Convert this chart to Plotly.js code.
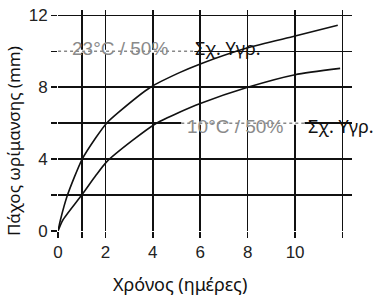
<!DOCTYPE html>
<html>
<head>
<meta charset="utf-8">
<script src="https://cdn.plot.ly/plotly-3.0.1.min.js"></script>
<style>html,body{margin:0;padding:0;background:#fff;}#chart{width:380px;height:297px;}</style>
</head>
<body>
<div id="chart"></div>
<script>
// Curve 23°C / 50% RH
var days23 = [0, 0.1, 0.4, 1, 1.6, 2.05, 2.55, 3.9, 5.1, 6, 8, 10, 11.8];
var thick23 = [0, 0.6, 2.0, 3.95, 5.2, 6.0, 6.6, 8.0, 8.8, 9.3, 10.2, 10.85, 11.45];
// Curve 10°C / 50% RH
var days10 = [0, 0.2, 1, 1.6, 2.05, 3.1, 4.15, 5.1, 6, 8, 10, 11.9];
var thick10 = [0, 0.6, 2.0, 3.1, 3.85, 5.0, 6.0, 6.6, 7.1, 8.0, 8.7, 9.05];

var xTickVals = [0, 1, 2, 4, 6, 8, 10, 12];
var xTickText = ["0", "", "2", "4", "6", "8", "10", ""];
var yTickVals = [0, 2, 4, 6, 8, 10, 12];
var yTickText = ["0", "", "4", "", "8", "", "12"];

var label23 = "23°C / 50%";
var label10 = "10°C / 50%";
var labelRH = "Σχ. Υγρ.";
var xTitle = "Χρόνος (ημέρες)";
var yTitle = "Πάχος ωρίμανσης (mm)";

var traces = [
  {x: days23, y: thick23, mode: "lines", line: {color: "#111", width: 1.6, shape: "spline", smoothing: 0.6}, hoverinfo: "skip", showlegend: false},
  {x: days10, y: thick10, mode: "lines", line: {color: "#111", width: 1.6, shape: "spline", smoothing: 0.6}, hoverinfo: "skip", showlegend: false}
];

var tickFont = {family: "Liberation Sans, Arial, sans-serif", size: 17, color: "#222"};
var textFont = {family: "Noto Sans, Open Sans, sans-serif", size: 18, color: "#111"};
var grayFont = {family: "Liberation Sans, Arial, sans-serif", size: 19, color: "#8a8a8a"};

var layout = {
  width: 380, height: 297,
  margin: {l: 58, r: 28, t: 10, b: 66},
  paper_bgcolor: "#fff", plot_bgcolor: "#fff",
  xaxis: {
    range: [0, 12.4], tickmode: "array", tickvals: xTickVals, ticktext: xTickText,
    showgrid: true, gridcolor: "#111", gridwidth: 1.6, zeroline: false, showline: false,
    ticks: "outside", ticklen: 6, tickwidth: 1.6, tickcolor: "#111", tickfont: tickFont, fixedrange: true
  },
  yaxis: {
    range: [0, 12.3], tickmode: "array", tickvals: yTickVals, ticktext: yTickText,
    showgrid: true, gridcolor: "#111", gridwidth: 1.6, zeroline: false, showline: false,
    ticks: "outside", ticklen: 6, tickwidth: 1.6, tickcolor: "#111", tickfont: tickFont, fixedrange: true
  },
  shapes: [
    {type: "line", xref: "x", yref: "y", x0: -0.25, x1: 5.75, y0: 10, y1: 10, layer: "above", line: {color: "#fff", width: 3}},
    {type: "line", xref: "x", yref: "y", x0: -0.25, x1: 5.75, y0: 10, y1: 10, layer: "above", line: {color: "#888", width: 1.5, dash: "dot"}},
    {type: "line", xref: "x", yref: "y", x0: 5.2, x1: 10.4, y0: 6, y1: 6, layer: "above", line: {color: "#fff", width: 3}},
    {type: "line", xref: "x", yref: "y", x0: 5.2, x1: 10.4, y0: 6, y1: 6, layer: "above", line: {color: "#888", width: 1.5, dash: "dot"}}
  ],
  annotations: [
    {x: 2.6, y: 10.15, xref: "x", yref: "y", text: label23, xanchor: "center", yanchor: "middle", showarrow: false, font: grayFont},
    {x: 5.7, y: 10.2, xref: "x", yref: "y", text: labelRH, xanchor: "left", yanchor: "middle", showarrow: false, font: textFont},
    {x: 7.45, y: 5.8, xref: "x", yref: "y", text: label10, xanchor: "center", yanchor: "middle", showarrow: false, font: grayFont},
    {x: 10.45, y: 5.85, xref: "x", yref: "y", text: labelRH, xanchor: "left", yanchor: "middle", showarrow: false, font: textFont},
    {x: 0.415, y: -0.24, xref: "paper", yref: "paper", text: xTitle, xanchor: "center", yanchor: "middle", showarrow: false, font: textFont},
    {x: -0.153, y: 0.407, xref: "paper", yref: "paper", text: yTitle, textangle: -90, xanchor: "center", yanchor: "middle", showarrow: false, font: {family: "Noto Sans, Open Sans, sans-serif", size: 17, color: "#111"}}
  ]
};

Plotly.newPlot("chart", traces, layout, {staticPlot: true, displayModeBar: false});
</script>
</body>
</html>
